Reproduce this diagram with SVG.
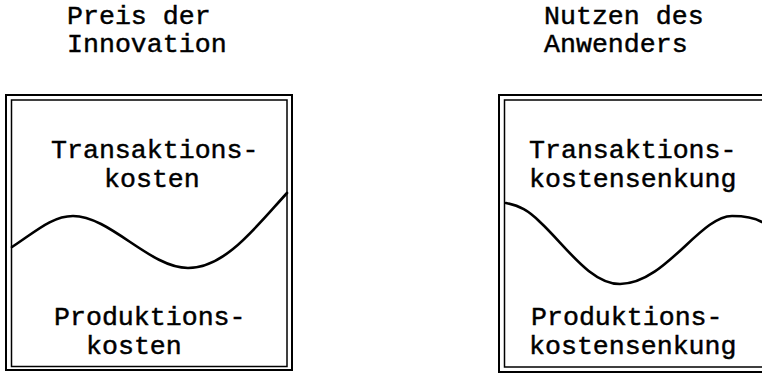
<svg xmlns="http://www.w3.org/2000/svg" width="762" height="373" viewBox="0 0 762 373">
  <style>
    .lbl { font-family: "Liberation Mono", "Courier New", monospace; font-size: 26.6px; fill: #000; stroke: #000; stroke-width: 0.45; }
    .outer { fill: none; stroke: #000; stroke-width: 2; }
    .inner { fill: none; stroke: #000; stroke-width: 1.5; }
    .wave { fill: none; stroke: #000; stroke-width: 2.6; stroke-linecap: round; stroke-linejoin: round; }
  </style>
  <rect width="762" height="373" fill="#fff"/>

  <!-- cost side -->
  <g id="price">
    <text class="lbl" x="67" y="24">Preis der</text>
    <text class="lbl" x="67" y="52">Innovation</text>
    <rect class="outer" x="6" y="95" width="286" height="275"/>
    <rect class="inner" x="11.5" y="100" width="275.5" height="266.5"/>
    <text class="lbl" x="51" y="158">Transaktions-</text>
    <text class="lbl" x="104" y="187">kosten</text>
    <text class="lbl" x="54" y="325">Produktions-</text>
    <text class="lbl" x="86" y="354">kosten</text>
  </g>

  <!-- benefit side -->
  <g id="benefit">
    <text class="lbl" x="544" y="24">Nutzen des</text>
    <text class="lbl" x="544" y="52">Anwenders</text>
    <path class="outer" d="M764,95 H499 V372 H764"/>
    <path class="inner" d="M764,100 H504.5 V367 H764"/>
    <text class="lbl" x="529" y="158">Transaktions-</text>
    <text class="lbl" x="529" y="187">kostensenkung</text>
    <text class="lbl" x="531" y="325">Produktions-</text>
    <text class="lbl" x="529" y="354">kostensenkung</text>
  </g>

  <!-- dividing curves -->
  <g id="curves">
    <path class="wave" d="M12,247 C35,232 52,216 73,216 C110,216 150,268 188,268 C225,268 255,228 287,193"/>
    <path class="wave" d="M506,203 C520,206 528,210 540,222 C565,245 590,284 620,284 C665,284 700,216 732,216 C745,216 755,218 762,222"/>
  </g>
</svg>
